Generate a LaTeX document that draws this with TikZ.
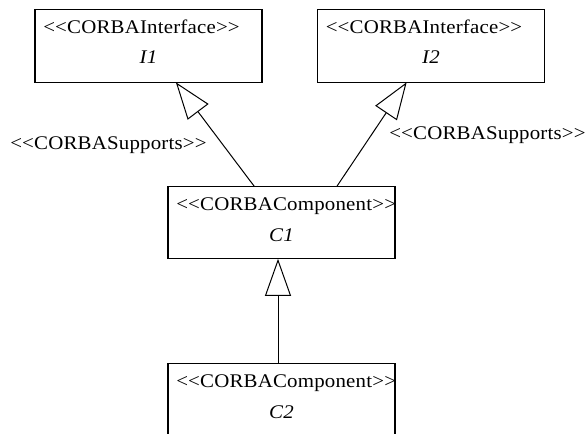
\documentclass[tikz,border=0pt]{standalone}
\usepackage{fontspec}
\setmainfont[FakeStretch=1.08, LetterSpace=1]{Liberation Serif}
\usetikzlibrary{calc,arrows.meta}

\tikzset{
  umlbox/.style={draw, line width=0.8pt, minimum width=170.25pt, minimum height=54.5pt, inner sep=0pt, outer sep=0pt},
  stereo/.style={anchor=base west, inner sep=0pt, font=\fontsize{14.5pt}{17pt}\selectfont},
  umlname/.style={anchor=base, inner sep=0pt, font=\fontsize{14.5pt}{17pt}\selectfont\itshape},
  supports/.style={line width=0.75pt, -{Triangle[open, length=27.75pt, width=19.5pt]}}
}

\begin{document}
\begin{tikzpicture}[x=0.75pt, y=-0.75pt]
			\useasboundingbox (0,0) rectangle (587,434);
			\clip (0,0) rectangle (587,434);
			
			% Interface boxes
			\node [umlbox] (i1) at (148.5,46) {};
			\node [stereo] (i1s) at ($(i1.north west)+(8,24)$) {<{}<CORBAInterface>{}>};
			\node [umlname] (i1n) at ($(i1.north)+(0,54)$) {I1};
			
			\node [umlbox] (i2) at (431,46) {};
			\node [stereo] (i2s) at ($(i2.north west)+(8,24)$) {<{}<CORBAInterface>{}>};
			\node [umlname] (i2n) at ($(i2.north)+(0,54)$) {I2};
			
			% Component boxes
			\node [umlbox] (c1) at (281.5,222.5) {};
			\node [stereo] (c1s) at ($(c1.north west)+(8,24)$) {<{}<CORBAComponent>{}>};
			\node [umlname] (c1n) at ($(c1.north)+(0,55)$) {C1};
			
			\node [umlbox] (c2) at (281.5,399.5) {};
			\node [stereo] (c2s) at ($(c2.north west)+(8,24)$) {<{}<CORBAComponent>{}>};
			\node [umlname] (c2n) at ($(c2.north)+(0,55)$) {C2};
			
			% Generalisation arrows
			\draw [supports] (c1) -- (i1);
			\draw [supports] ($(c1.north)+(55.5,0)$) -- (i2);
			\draw [supports] ($(c2.north)+(-3.5,0)$) -- ($(c1.south)+(-3.5,0)$);
			
			% Arrow labels
			\node [stereo] (supl) at (10,150) {<{}<CORBASupports>{}>};
			\node [stereo] (supr) at (389,140) {<{}<CORBASupports>{}>};
		\end{tikzpicture}
\end{document}
